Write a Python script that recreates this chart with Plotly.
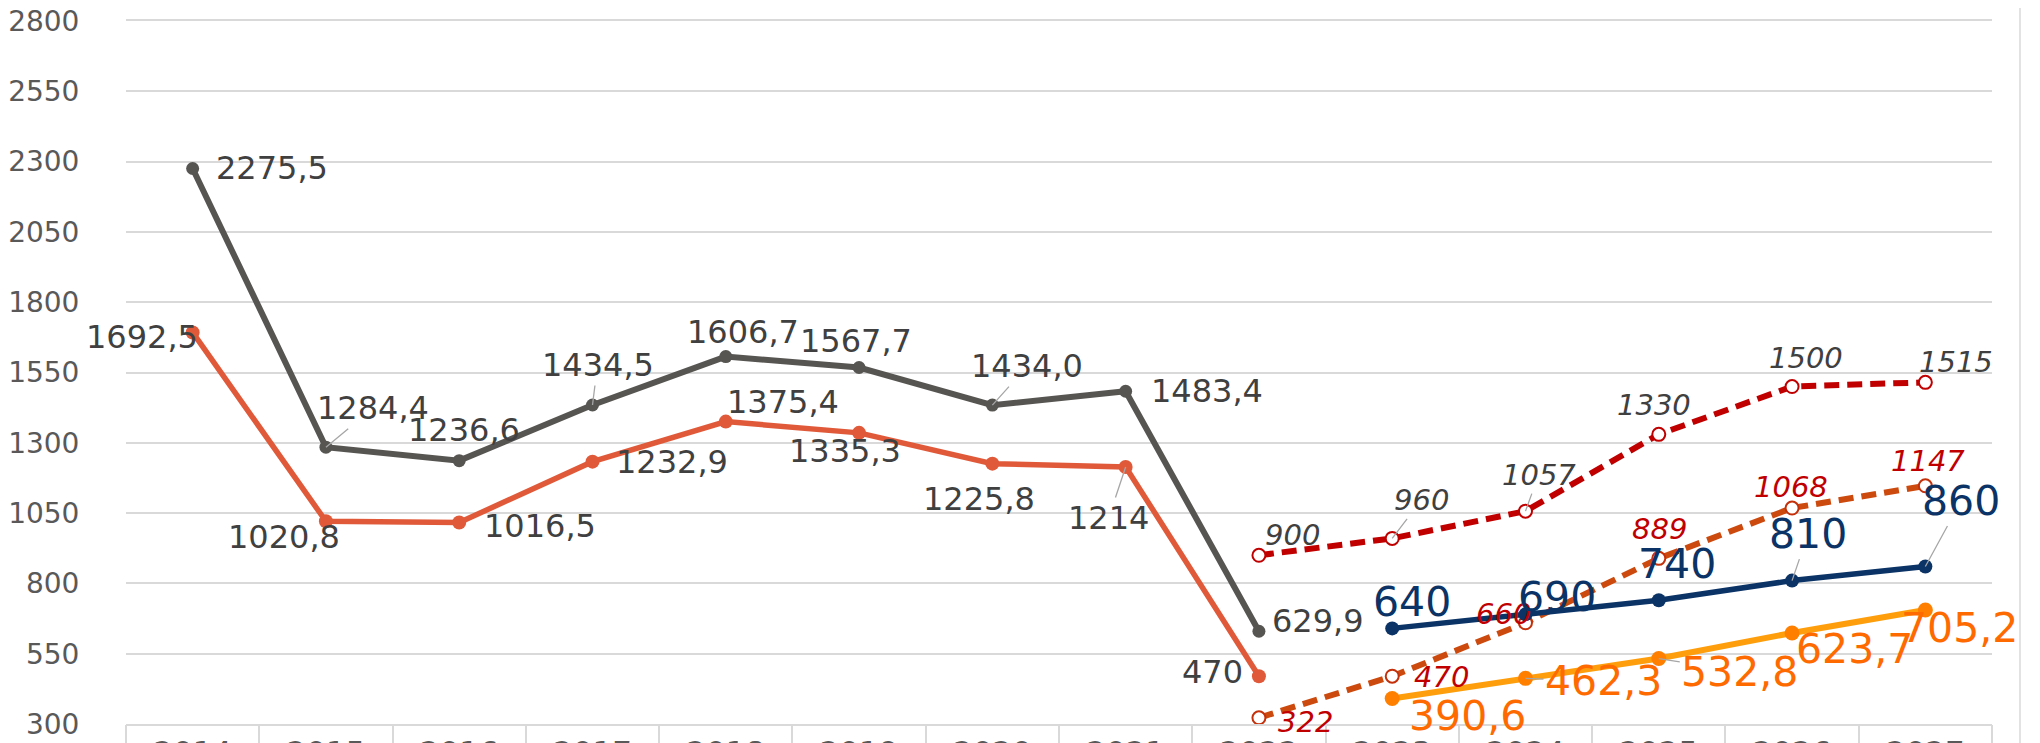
import plotly.graph_objects as go

# ---------------- data ----------------
years = [str(y) for y in range(2014, 2028)]

years_hist = [str(y) for y in range(2014, 2023)]
gray_vals = [2275.5, 1284.4, 1236.6, 1434.5, 1606.7, 1567.7, 1434.0, 1483.4, 629.9]
gray_text = ["2275,5", "1284,4", "1236,6", "1434,5", "1606,7", "1567,7", "1434,0", "1483,4", "629,9"]
red_vals = [1692.5, 1020.8, 1016.5, 1232.9, 1375.4, 1335.3, 1225.8, 1214, 470]
red_text = ["1692,5", "1020,8", "1016,5", "1232,9", "1375,4", "1335,3", "1225,8", "1214", "470"]

years_fc6 = [str(y) for y in range(2022, 2028)]
high_vals = [900, 960, 1057, 1330, 1500, 1515]
high_text = ["900", "960", "1057", "1330", "1500", "1515"]
low_vals = [322, 470, 660, 889, 1068, 1147]
low_text = ["322", "470", "660", "889", "1068", "1147"]

years_fc5 = [str(y) for y in range(2023, 2028)]
navy_vals = [640, 690, 740, 810, 860]
navy_text = ["640", "690", "740", "810", "860"]
orange_vals = [390.6, 462.3, 532.8, 623.7, 705.2]
orange_text = ["390,6", "462,3", "532,8", "623,7", "705,2"]

# ---------------- label placement (pixel offsets, leader flag) ----------------
gray_off = [(79, 0, 0), (47, -39, 1), (5, -31, 0), (5, -40, 1), (17, -25, 0),
            (-3, -27, 0), (35, -39, 1), (81, 0, 0), (59, -10, 0)]
red_off = [(-51, 5, 0), (-42, 16, 0), (81, 3, 0), (79, 0, 0), (57, -20, 0),
           (-14, 18, 0), (-13, 35, 0), (-17, 51, 1), (-46, -4, 0)]
high_off = [(34, -20, 0), (29, -38, 1), (13, -36, 1), (-5, -29, 0), (14, -29, 0), (31, -20, 0)]
low_off = [(47, 4, 0), (49, 1, 0), (-22, -9, 0), (1, -29, 0), (-1, -21, 0), (3, -25, 0)]
navy_off = [(20, -26, 0), (31, -17, 0), (18, -36, 0), (16, -47, 1), (36, -66, 1)]
orange_off = [(75, 17, 0), (78, 3, 1), (81, 13, 1), (62, 16, 0), (34, 18, 0)]

FONT = "DejaVu Sans"
GRID = "#d9d9d9"

fig = go.Figure()

def line(x, y, color, width, msize, dash="solid", open_marker=False, mline=None):
    if open_marker:
        marker = dict(size=msize, color="white", line=dict(color=mline, width=2))
    else:
        marker = dict(size=msize, color=mline or color, line=dict(width=0))
    fig.add_trace(go.Scatter(x=x, y=y, mode="lines+markers",
                             line=dict(color=color, width=width, dash=dash),
                             marker=marker, showlegend=False, hoverinfo="skip"))

line(years_hist, gray_vals, "#575552", 6, 13)
line(years_hist, red_vals, "#E05A3A", 5.5, 14)
line(years_fc6, high_vals, "#C00000", 6, 13, dash="15px,8px", open_marker=True, mline="#C00000")
line(years_fc6, low_vals, "#CC4A0E", 6, 13, dash="15px,8px", open_marker=True, mline="#C4300A")
line(years_fc5, navy_vals, "#0B3366", 5.5, 14)
line(years_fc5, orange_vals, "#FF9E0C", 6, 15, mline="#FF8000")

# invisible helper trace for the category-divider axis
fig.add_trace(go.Scatter(x=years_hist, y=gray_vals, xaxis="x2", mode="lines",
                         opacity=0, showlegend=False, hoverinfo="skip"))

def labels(x, y, texts, offs, color, size, italic=False):
    for xi, yi, t, (dx, dy, lead) in zip(x, y, texts, offs):
        fig.add_annotation(x=years.index(xi), y=yi, text=t, showarrow=True, ax=dx, ay=dy,
                           arrowhead=0, arrowwidth=1.3,
                           arrowcolor="#a6a6a6" if lead else "rgba(0,0,0,0)",
                           font=dict(family=FONT, size=size, color=color,
                                     style="italic" if italic else "normal"))

labels(years_hist, gray_vals, gray_text, gray_off, "#404040", 32)
labels(years_hist, red_vals, red_text, red_off, "#404040", 32)
labels(years_fc6, high_vals, high_text, high_off, "#404040", 29, italic=True)
labels(years_fc6, low_vals, low_text, low_off, "#C00000", 29, italic=True)
labels(years_fc5, navy_vals, navy_text, navy_off, "#0B3366", 41)
labels(years_fc5, orange_vals, orange_text, orange_off, "#FF6A00", 41)

# the page body adds an 8px margin, so the figure is 8px smaller than the window
fig.update_layout(
    width=2032, height=735,
    margin=dict(l=118, r=48, t=13, b=19),
    paper_bgcolor="white", plot_bgcolor="white",
    font=dict(family=FONT, color="#595959"),
    xaxis=dict(type="category", categoryorder="array", categoryarray=years,
               range=[-0.5, len(years) - 0.5], automargin=False,
               showgrid=False, zeroline=False,
               ticks="",
               ticklabeloverflow="allow",
               tickfont=dict(family=FONT, size=31, color="#595959"),
               showline=True, mirror=True, linecolor=GRID, linewidth=2),
    xaxis2=dict(type="category", categoryorder="array", categoryarray=years,
                range=[-0.5, len(years) - 0.5], automargin=False,
                overlaying="x", anchor="y", side="bottom",
                showgrid=False, zeroline=False, showticklabels=False,
                ticks="outside", tickson="boundaries", ticklen=40,
                tickcolor=GRID, tickwidth=2, showline=False),
    yaxis=dict(range=[300, 2800], tick0=300, dtick=250, automargin=False,
               showgrid=True, gridcolor=GRID, gridwidth=2, zeroline=False,
               showline=False,
               ticks="outside", ticklen=40, tickcolor="rgba(0,0,0,0)",
               ticklabeloverflow="allow",
               tickfont=dict(family=FONT, size=28, color="#595959")),
)

# chart-area border on the right
fig.add_shape(type="line", xref="paper", yref="paper", x0=1.015, x1=1.015, y0=-0.1, y1=1.1,
              line=dict(color=GRID, width=1.5))

fig.write_html("out.html")
